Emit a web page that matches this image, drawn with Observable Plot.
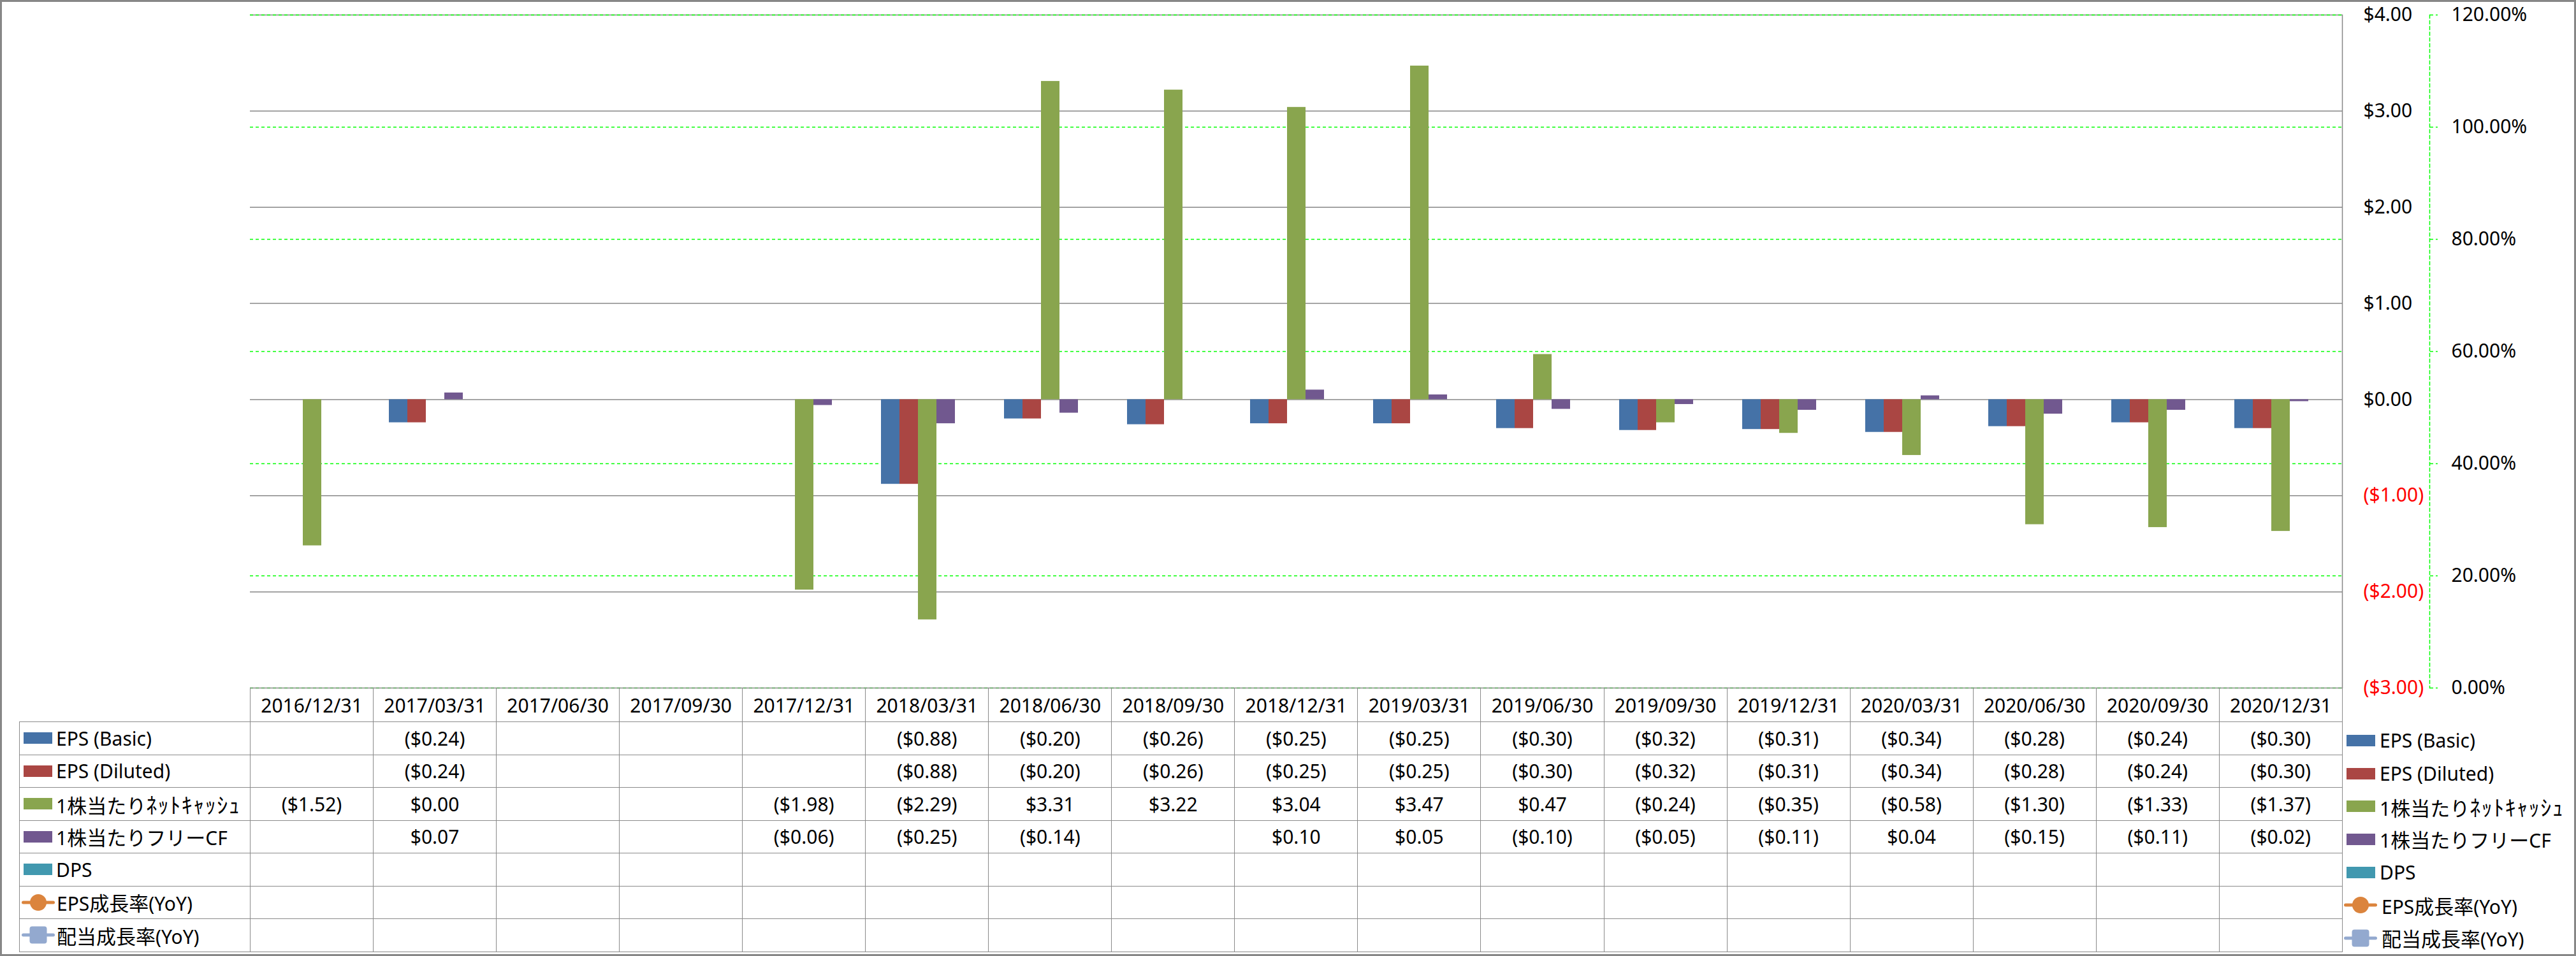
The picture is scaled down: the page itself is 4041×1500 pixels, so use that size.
<!DOCTYPE html>
<html>
<head>
<meta charset="utf-8">
<script src="https://cdn.jsdelivr.net/npm/d3@7"></script>
<script src="https://cdn.jsdelivr.net/npm/@observablehq/plot@0.6"></script>
<style>
  body { margin: 0; background: #fff; }
  #chart { position: relative; width: 4041px; height: 1500px; overflow: hidden; background: #fff;
           font-family: "Noto Sans", "Noto Sans CJK JP", sans-serif; color: #000; }
  #chart .layer { position: absolute; left: 0; top: 0; }
  #border { position: absolute; left: 0; top: 0; width: 4041px; height: 1500px; box-sizing: border-box;
            border: 3px solid #878787; pointer-events: none; }
  #table { position: absolute; left: 30px; top: 1079px; border-collapse: collapse; table-layout: fixed;
           font-size: 30px; }
  #table td { border: 1.5px solid #8a8a8a; padding: 0; text-align: center; vertical-align: middle;
              white-space: nowrap; overflow: hidden; }
  #table tr.head td { height: 52px; }
  #table tr.row td { height: 50.5px; }
  #table td.corner { border-top: none; border-left: none; }
  #table td.lab { text-align: left; }
  .key { display: flex; align-items: center; }
  .key svg { flex: none; }
  .cjk { font-size: 31px; }
  .hw { font-size: 34px; letter-spacing: 1.5px; }
  #legend { position: absolute; left: 3681px; top: 1136px; font-size: 30px; }
  #legend .item { height: 51.7px; display: flex; align-items: center; white-space: nowrap; }
  #legend svg { flex: none; margin-right: 7px; }
</style>
</head>
<body>
<div id="chart"></div>
<script>
// ---------------- data ----------------
const dates = ["2016/12/31","2017/03/31","2017/06/30","2017/09/30","2017/12/31","2018/03/31","2018/06/30",
  "2018/09/30","2018/12/31","2019/03/31","2019/06/30","2019/09/30","2019/12/31","2020/03/31","2020/06/30",
  "2020/09/30","2020/12/31"];
const barSeries = ["EPS (Basic)", "EPS (Diluted)", "1株当たりﾈｯﾄｷｬｯｼｭ", "1株当たりフリーCF", "DPS"];
const lineSeries = ["EPS成長率(YoY)", "配当成長率(YoY)"];
const epsBasic   = [null,-0.24,null,null,null,-0.88,-0.20,-0.26,-0.25,-0.25,-0.30,-0.32,-0.31,-0.34,-0.28,-0.24,-0.30];
const epsDiluted = [null,-0.24,null,null,null,-0.88,-0.20,-0.26,-0.25,-0.25,-0.30,-0.32,-0.31,-0.34,-0.28,-0.24,-0.30];
const netCashPS  = [-1.52,0.00,null,null,-1.98,-2.29,3.31,3.22,3.04,3.47,0.47,-0.24,-0.35,-0.58,-1.30,-1.33,-1.37];
const fcfPS      = [null,0.07,null,null,-0.06,-0.25,-0.14,null,0.10,0.05,-0.10,-0.05,-0.11,0.04,-0.15,-0.11,-0.02];
const dps        = [null,null,null,null,null,null,null,null,null,null,null,null,null,null,null,null,null];
const epsGrowth  = [null,null,null,null,null,null,null,null,null,null,null,null,null,null,null,null,null];
const dpsGrowth  = [null,null,null,null,null,null,null,null,null,null,null,null,null,null,null,null,null];
const dollarTicks = [-3,-2,-1,0,1,2,3,4];
const pctTicks = [0,0.2,0.4,0.6,0.8,1.0,1.2];

// ---------------- styles ----------------
const barColors = ["#4572A7", "#AA4643", "#89A54E", "#71588F", "#4198AF"];
const lineColors = ["#DB843D", "#93A9CF"];
const W = 4041, H = 1083;
const ML = 392, MR = W - 3674, MT = 23, MB = 4;
const gray = "#878787", lime = "#00ff00";
const font = '"Noto Sans", "Noto Sans CJK JP", sans-serif';

const fmtDollar = v => v == null ? "" : (v < 0 ? `($${(-v).toFixed(2)})` : `$${Math.abs(v).toFixed(2)}`);
const fmtPct = v => (v * 100).toFixed(2) + "%";

const barValues = [epsBasic, epsDiluted, netCashPS, fcfPS, dps];
const bars = [];
barValues.forEach((arr, s) => arr.forEach((v, i) => {
  if (v != null) bars.push({date: dates[i], series: barSeries[s], value: v});
}));

const chart = document.getElementById("chart");
const baseStyle = {fontFamily: font, fontSize: "30px", background: "none", overflow: "visible"};

function addLayer(svg) { svg.classList.add("layer"); chart.appendChild(svg); }

// dollar gridlines + right-hand dollar labels
addLayer(Plot.plot({
  width: W, height: H, marginLeft: ML, marginRight: MR, marginTop: MT, marginBottom: MB,
  style: baseStyle,
  y: {domain: [-3, 4], axis: null},
  marks: [
    Plot.ruleY(dollarTicks, {stroke: gray, strokeWidth: 1.5}),
    Plot.frame({anchor: "right", stroke: gray, strokeWidth: 1.5}),
    Plot.text(dollarTicks, {y: d => d, text: d => fmtDollar(d), frameAnchor: "right", textAnchor: "start",
      dx: 33, fontSize: 30, fill: d => d < 0 ? "#ff0000" : "#000000"})
  ]
}));

// percent gridlines (secondary axis)
addLayer(Plot.plot({
  width: W, height: H, marginLeft: ML, marginRight: MR, marginTop: MT, marginBottom: MB,
  style: baseStyle,
  y: {domain: [0, 1.2], axis: null},
  marks: [
    Plot.ruleY(pctTicks, {stroke: lime, strokeWidth: 1.5, strokeDasharray: "5,4"})
  ]
}));

// bars
addLayer(Plot.plot({
  width: W, height: H, marginLeft: ML, marginRight: MR, marginTop: MT, marginBottom: MB,
  style: baseStyle,
  fx: {domain: dates, padding: 0, axis: null, label: null},
  x: {domain: barSeries, paddingInner: 0, paddingOuter: 0.75, axis: null},
  y: {domain: [-3, 4], axis: null},
  color: {domain: barSeries, range: barColors},
  marks: [
    Plot.barY(bars, {fx: "date", x: "series", y: "value", fill: "series"})
  ]
}));

// percent axis on the far right
addLayer(Plot.plot({
  width: W, height: H, marginLeft: 3700, marginRight: W - 3811, marginTop: MT, marginBottom: MB,
  style: baseStyle,
  y: {domain: [0, 1.2]},
  marks: [
    Plot.frame({anchor: "right", stroke: lime, strokeWidth: 1.5, strokeDasharray: "5,4"}),
    Plot.axisY(pctTicks, {anchor: "right", tickSize: 12, tickPadding: 22, stroke: lime, strokeWidth: 1.5,
      strokeDasharray: "5,4", tickFormat: fmtPct, fontSize: 30, fill: "#000", label: null})
  ]
}));

// ---------------- data table ----------------
function keySvg(i) {
  if (i < barSeries.length) {
    return `<svg width="45" height="18"><rect width="45" height="18" fill="${barColors[i]}"/></svg>`;
  }
  const c = lineColors[i - barSeries.length];
  const marker = i === barSeries.length
    ? `<circle cx="26" cy="14" r="13" fill="${c}"/>`
    : `<rect x="12.5" y="0.5" width="27" height="27" rx="4" fill="${c}"/>`;
  return `<svg width="52" height="28"><line x1="2.5" y1="14" x2="49.5" y2="14" stroke="${c}" stroke-width="5" stroke-linecap="round"/>${marker}</svg>`;
}
function labelHtml(name) {
  return name
    .replace(/([\u3040-\u30FF\u4E00-\u9FFF]+)/g, '<span class="cjk">$1</span>')
    .replace(/([\uFF61-\uFF9F]+)/g, '<span class="hw">$1</span>');
}

const allNames = barSeries.concat(lineSeries);
const allValues = [epsBasic, epsDiluted, netCashPS, fcfPS, dps, epsGrowth, dpsGrowth];
const colW = (3674 - ML) / dates.length;
const labW = ML - 30;

let html = `<colgroup><col style="width:${labW}px">` + dates.map(() => `<col style="width:${colW}px">`).join("") + `</colgroup>`;
html += `<tr class="head"><td class="corner"></td>` + dates.map(d => `<td>${d}</td>`).join("") + `</tr>`;
allNames.forEach((name, i) => {
  const keyPad = i < barSeries.length ? "padding-left:6px" : "padding-left:3px";
  const gap = i < barSeries.length ? 6 : 3;
  html += `<tr class="row"><td class="lab"><div class="key" style="${keyPad}">${keySvg(i)}<span style="margin-left:${gap}px">${labelHtml(name)}</span></div></td>` +
    allValues[i].map(v => `<td>${fmtDollar(v)}</td>`).join("") + `</tr>`;
});
const table = document.createElement("table");
table.id = "table";
table.style.width = (3674 - 30) + "px";
table.innerHTML = html;
chart.appendChild(table);

// ---------------- right legend ----------------
const legend = document.createElement("div");
legend.id = "legend";
legend.innerHTML = allNames.map((name, i) => {
  const ml = i < barSeries.length ? 0 : -4;
  return `<div class="item"><span style="margin-left:${ml}px;display:flex">${keySvg(i)}</span><span>${labelHtml(name)}</span></div>`;
}).join("");
chart.appendChild(legend);

const border = document.createElement("div");
border.id = "border";
chart.appendChild(border);
</script>
</body>
</html>
